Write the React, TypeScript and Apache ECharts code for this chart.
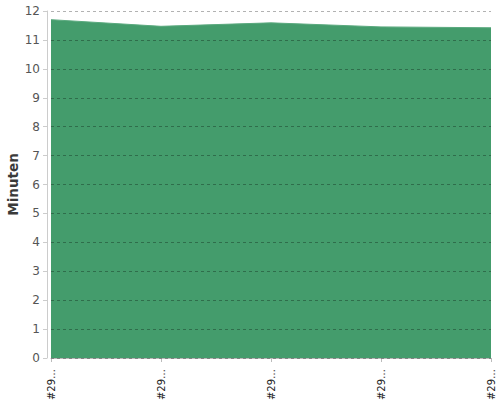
import React, { useEffect, useRef } from "react";
import * as echarts from "echarts";

const categories = ["#2941", "#2942", "#2943", "#2944", "#2945"];
const minutes = [11.7, 11.47, 11.59, 11.45, 11.42];
const yMin = 0;
const yMax = 12;
const yInterval = 1;
const yAxisName = "Minuten";

export default function App() {
  const ref = useRef<HTMLDivElement>(null);
  useEffect(() => {
    document.body.style.margin = "0";
    const chart = echarts.init(ref.current!, null, { renderer: "svg" });
    chart.setOption({
      animation: false,
      textStyle: { fontFamily: "DejaVu Sans" },
      grid: {
        left: 51,
        right: 9,
        top: 11,
        bottom: 42,
        containLabel: false,
        outerBoundsMode: "none",
      },
      xAxis: {
        type: "category",
        data: categories,
        boundaryGap: false,
        offset: 5,
        axisLine: { show: true, lineStyle: { color: "#bbbbbb", width: 1 } },
        axisTick: { show: true, length: 4, alignWithLabel: true, lineStyle: { color: "#bbbbbb" } },
        axisLabel: {
          rotate: 90,
          margin: 6,
          fontSize: 10,
          color: "#222222",
          interval: 0,
          formatter: (v: string) => v.slice(0, 3) + "…",
        },
        splitLine: { show: false },
      },
      yAxis: {
        type: "value",
        min: yMin,
        max: yMax,
        interval: yInterval,
        offset: 4,
        z: 5,
        name: yAxisName,
        nameLocation: "middle",
        nameGap: 27,
        nameMoveOverlap: false,
        nameTextStyle: { fontSize: 13.5, color: "#3a3a3a", fontWeight: "bold", fontFamily: "DejaVu Sans" },
        axisLine: { show: true, lineStyle: { color: "#cccccc", width: 1 } },
        axisTick: { show: true, length: 4, lineStyle: { color: "#cccccc" } },
        axisLabel: { fontSize: 12, color: "#555555", margin: 7 },
        splitLine: {
          show: true,
          lineStyle: { color: "rgba(0,0,0,0.3)", type: [3, 3], width: 1 },
        },
      },
      series: [
        {
          type: "line",
          data: minutes,
          symbol: "none",
          smooth: false,
          lineStyle: { width: 1, color: "#5aa97e" },
          areaStyle: { color: "#449c6c", opacity: 1 },
          itemStyle: { color: "#449c6c" },
        },
      ],
    });
    return () => chart.dispose();
  }, []);
  return (
    <div
      ref={ref}
      style={{ position: "absolute", left: 0, top: 0, width: 500, height: 400 }}
    />
  );
}
